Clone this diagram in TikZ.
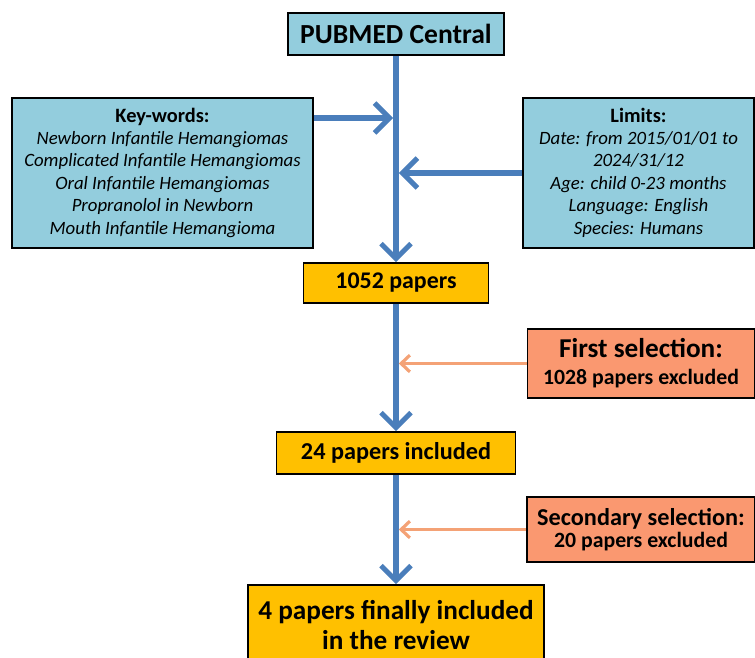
\documentclass[tikz,border=0pt]{standalone}
\usepackage{fontspec}
\setmainfont{Carlito}
\usetikzlibrary{arrows.meta}

\definecolor{boxblue}{RGB}{147,205,221}
\definecolor{boxyellow}{RGB}{255,192,0}
\definecolor{boxsalmon}{RGB}{250,152,112}
\definecolor{lineblue}{RGB}{74,126,187}
\definecolor{lineorange}{RGB}{244,162,118}

\newcommand{\fs}[2]{\fontsize{#1}{#2}\selectfont}

\begin{document}
\begin{tikzpicture}[x=0.02cm,y=-0.02cm,
  box/.style={draw,line width=0.9pt,inner sep=0pt,align=center},
  flow/.style={lineblue,line width=2.9pt,-{Straight Barb[length=8.5pt,width=17pt]}},
  drop/.style={lineorange,line width=1.8pt,-{Straight Barb[length=5pt,width=9.5pt]}}]
\def\px{0.02cm}
\useasboundingbox (0,0) rectangle (755,657);

\node[box,fill=boxblue,minimum width=216*\px,minimum height=42*\px,font=\fs{15.7}{18}\bfseries] (pubmed) at (396,34) {PUBMED Central};
\node[box,fill=boxblue,minimum width=301*\px,minimum height=150*\px,font=\fs{10.7}{12.8}] (keywords) at (162.5,173)
  {{\fs{11.6}{12.8}\bfseries Key-words:}\\[-0.6pt]
   \itshape Newborn Infantile Hemangiomas\\
   \itshape Complicated Infantile Hemangiomas\\
   \itshape Oral Infantile Hemangiomas\\
   \itshape Propranolol in Newborn\\
   \itshape Mouth Infantile Hemangioma};
\node[box,fill=boxblue,minimum width=231*\px,minimum height=150*\px,font=\fs{10.7}{12.8}] (limits) at (638.5,173)
  {{\fs{11.6}{12.8}\bfseries Limits:}\\[-0.6pt]
   \itshape Date: from 2015/01/01 to\\
   \itshape 2024/31/12\\
   \itshape Age: child 0-23 months\\
   \itshape Language: English\\
   \itshape Species: Humans};

\node[box,fill=boxyellow,minimum width=185*\px,minimum height=40*\px,font=\fs{13.6}{16}\bfseries] (n1052) at (396,283) {1052 papers};
\node[box,fill=boxsalmon,minimum width=227*\px,minimum height=69*\px,font=\fs{12.4}{15.3}\bfseries] (first) at (641,363.5)
  {{\fs{15.5}{15.3}First selection:}\\1028 papers excluded};
\node[box,fill=boxyellow,minimum width=239*\px,minimum height=42*\px,font=\fs{13.8}{16}\bfseries] (n24) at (396,453) {24 papers included};
\node[box,fill=boxsalmon,minimum width=228*\px,minimum height=65*\px,font=\fs{12.4}{12.4}\bfseries] (second) at (641,529.5)
  {{\fs{13.8}{12.4}Secondary selection:}\\20 papers excluded};
\node[box,fill=boxyellow,minimum width=296*\px,minimum height=80*\px,font=\fs{15.5}{17}\bfseries] (final) at (396,625)
  {4 papers finally included\\in the review};

\coordinate (kwlevel) at (0,118);

\draw[flow] (pubmed) -- (n1052);
\draw[flow] (keywords.east |- kwlevel) -- ([xshift=-1.6pt]pubmed.south |- kwlevel);
\draw[flow] (limits.west) -- ([xshift=1.6pt]pubmed.south |- limits.west);
\draw[flow] (n1052) -- (n24);
\draw[drop] (first.west) -- ([xshift=1.6pt]n1052.south |- first.west);
\draw[flow] (n24) -- (final);
\draw[drop] (second.west) -- ([xshift=1.6pt]n24.south |- second.west);
\end{tikzpicture}
\end{document}
